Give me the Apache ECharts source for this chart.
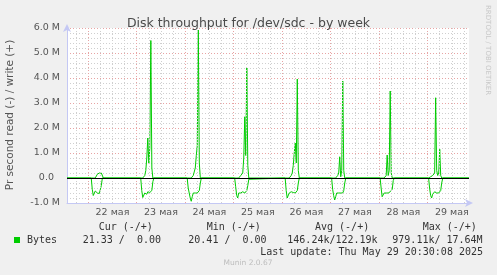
<!DOCTYPE html>
<html>
<head>
<meta charset="utf-8">
<script src="https://cdn.jsdelivr.net/npm/echarts@6/dist/echarts.min.js"></script>
<style>
  html, body { margin: 0; padding: 0; background: #f0f0f0; }
  #chart { width: 497px; height: 275px; }
</style>
</head>
<body>
<div id="chart"></div>
<script>
// Time is counted in hours from 21 May 2025 00:00; throughput in MB/s.
const viewStart = 13.5;   // 21 May 13:30
const viewEnd = 212.5;    // 29 May 20:30
const sampleStep = 0.5;   // 30-minute consolidation

const dayLabels = ['22 мая', '23 мая', '24 мая', '25 мая', '26 мая', '27 мая', '28 мая', '29 мая'];
const yTicks = [-1, 0, 1, 2, 3, 4, 5, 6];

// Start hour of each nightly activity window
const burstStart = [25.5, 50, 73, 96.5, 121.5, 144.5, 168.5, 192.5];

// Read throughput (drawn below zero)
const readMay22 = [0, 0.45, 0.7, 0.68, 0.52, 0.55, 0.6, 0.6, 0.62, 0.6, 0.3, 0, 0];
const readMay23 = [0, 0.5, 0.78, 0.8, 0.6, 0.62, 0.65, 0.55, 0.6, 0.58, 0.55, 0.5, 0.15, 0];
const readMay24 = [0, 0.4, 0.6, 0.8, 0.93, 0.75, 0.6, 0.55, 0.6, 0.58, 0.6, 0.55, 0.5, 0.2, 0];
const readMay25 = [0, 0.35, 0.7, 0.8, 0.6, 0.55, 0.6, 0.6, 0.55, 0.58, 0.6, 0.55, 0.5, 0.3, 0.05, 0];
const readMay26 = [0, 0.5, 0.8, 0.75, 0.6, 0.55, 0.55, 0.6, 0.58, 0.55, 0.6, 0.55, 0.5, 0.2, 0];
const readMay27 = [0, 0.45, 0.7, 0.88, 0.75, 0.6, 0.55, 0.6, 0.58, 0.6, 0.55, 0.6, 0.5, 0.2, 0];
const readMay28 = [0, 0.4, 0.75, 0.8, 0.6, 0.55, 0.6, 0.55, 0.6, 0.58, 0.55, 0.5, 0.45, 0.1, 0];
const readMay29 = [0, 0.4, 0.7, 0.8, 0.65, 0.6, 0.55, 0.6, 0.6, 0.58, 0.6, 0.55, 0.5, 0.2, 0];

// Write throughput (drawn above zero)
const writeMay22 = [0, 0, 0, 0, 0, 0.05, 0.15, 0.1, 0.2, 0.15, 0.2, 0.25, 0];
const writeMay23 = [0, 0, 0, 0.05, 0.1, 0.3, 0.8, 1.6, 0.6, 1.2, 5.5, 0.4, 0, 0];
const writeMay24 = [0, 0, 0, 0, 0, 0.05, 0.1, 0.15, 0.4, 0.9, 1.3, 5.92, 0.6, 0, 0];
const writeMay25 = [0, 0, 0, 0, 0, 0.05, 0.1, 0.15, 0.2, 0.8, 2.45, 0.9, 4.4, 0.5, 0, 0];
const writeMay26 = [0, 0, 0, 0, 0, 0.05, 0.1, 0.2, 0.5, 1.0, 1.4, 0.6, 3.96, 0.3, 0];
const writeMay27 = [0, 0, 0, 0, 0, 0.05, 0.1, 0.2, 0.85, 0.05, 0.3, 3.88, 0.3, 0, 0];
const writeMay28 = [0, 0, 0, 0, 0, 0.05, 0.1, 0.92, 0.1, 0.3, 3.48, 0.2, 0, 0, 0];
const writeMay29 = [0, 0, 0.05, 0.1, 0.1, 0.15, 0.2, 3.21, 0.3, 0.1, 0.2, 1.15, 0.1, 0, 0];

const readBursts = [readMay22, readMay23, readMay24, readMay25, readMay26, readMay27, readMay28, readMay29];
const writeBursts = [writeMay22, writeMay23, writeMay24, writeMay25, writeMay26, writeMay27, writeMay28, writeMay29];

// Legend statistics
const legendHeaders = ['Cur (-/+)', 'Min (-/+)', 'Avg (-/+)', 'Max (-/+)'];
const legendValues = ['21.33 /  0.00', '20.41 /  0.00', '146.24k/122.19k', '979.11k/ 17.64M'];

const green = '#00cc00';
const majorGrid = '#e8a4a4';
const minorGrid = '#cfcfcf';
const axisColor = '#c4c8f4';

function buildLine(bursts, sign) {
  const pts = [[viewStart, 0]];
  bursts.forEach((vals, b) => {
    vals.forEach((v, i) => pts.push([burstStart[b] + i * sampleStep, sign * v]));
  });
  pts.push([viewEnd, 0]);
  return pts;
}

// Vertical grid: dotted every 6 h, red at midnight
const vGrid = [];
for (let h = 18; h < viewEnd; h += 6) {
  const major = h % 24 === 0;
  vGrid.push({ xAxis: h, lineStyle: { color: major ? majorGrid : minorGrid, type: [1, 2], width: 1 } });
}
const noonHours = dayLabels.map((_, i) => 24 * (i + 1) + 12);

const chart = echarts.init(document.getElementById('chart'), null, { renderer: 'canvas' });

const legendCols = [98.7, 206.7, 315, 422.7];
const valueCols = [82.7, 188.3, 287.3, 392.3];
const mono = '10px "DejaVu Sans Mono"';
const graphics = [
  { type: 'text', x: 10, y: 115, rotation: Math.PI / 2,
    style: { text: 'Pr second read (-) / write (+)', font: '10.5px "DejaVu Sans"', fill: '#555',
             textAlign: 'center', textVerticalAlign: 'middle', align: 'center', verticalAlign: 'middle' } },
  { type: 'text', x: 488, y: 5, rotation: -Math.PI / 2,
    style: { text: 'RRDTOOL / TOBI OETIKER', font: '7px "DejaVu Sans"', fill: '#c8c8c8',
             textAlign: 'left', textVerticalAlign: 'middle', align: 'left', verticalAlign: 'middle' } },
  { type: 'rect', shape: { x: 14, y: 237, width: 6, height: 6 }, style: { fill: green } },
  { type: 'text', x: 27, y: 240,
    style: { text: 'Bytes', font: mono, fill: '#333', textVerticalAlign: 'middle', verticalAlign: 'middle' } },
  { type: 'text', x: 483, y: 252,
    style: { text: 'Last update: Thu May 29 20:30:08 2025', font: mono, fill: '#333',
             textAlign: 'right', align: 'right', textVerticalAlign: 'middle', verticalAlign: 'middle' } },
  { type: 'text', x: 248, y: 263.5,
    style: { text: 'Munin 2.0.67', font: '7.5px "DejaVu Sans"', fill: '#bdbdbd',
             textAlign: 'center', align: 'center', textVerticalAlign: 'middle', verticalAlign: 'middle' } }
];
legendHeaders.forEach((t, i) => graphics.push({ type: 'text', x: legendCols[i], y: 227.5,
  style: { text: t, font: mono, fill: '#333', textVerticalAlign: 'middle', verticalAlign: 'middle' } }));
legendValues.forEach((t, i) => graphics.push({ type: 'text', x: valueCols[i], y: 240,
  style: { text: t, font: mono, fill: '#333', textVerticalAlign: 'middle', verticalAlign: 'middle' } }));

chart.setOption({
  backgroundColor: '#f0f0f0',
  animation: false,
  textStyle: { fontFamily: 'DejaVu Sans' },
  title: {
    text: 'Disk throughput for /dev/sdc - by week',
    left: 'center', top: 12,
    textStyle: { fontSize: 12.5, fontWeight: 'normal', color: '#4a4a4a', fontFamily: 'DejaVu Sans' }
  },
  grid: { left: 67, right: 28, top: 28, bottom: 72, show: true, backgroundColor: '#ffffff', borderWidth: 0 },
  xAxis: {
    type: 'value', min: viewStart, max: viewEnd,
    axisLine: { show: true, onZero: false, lineStyle: { color: axisColor, width: 1 },
                symbol: ['none', 'arrow'], symbolSize: [6, 8], symbolOffset: [0, 4] },
    axisTick: { show: false },
    splitLine: { show: false },
    axisLabel: {
      customValues: noonHours,
      formatter: v => dayLabels[Math.round((v - 36) / 24)] || '',
      color: '#555', fontSize: 9.5, margin: 5, fontFamily: 'DejaVu Sans'
    }
  },
  yAxis: {
    type: 'value', min: yTicks[0], max: yTicks[yTicks.length - 1], interval: 1,
    axisLine: { show: true, onZero: false, lineStyle: { color: axisColor, width: 1 },
                symbol: ['none', 'arrow'], symbolSize: [6, 8], symbolOffset: [0, 4] },
    axisTick: { show: false },
    axisLabel: {
      formatter: v => v === 0 ? '0.0  ' : v.toFixed(1) + ' M',
      color: '#555', fontSize: 9.5, margin: 7, fontFamily: 'DejaVu Sans'
    },
    splitLine: { show: true, lineStyle: { color: majorGrid, type: [1, 2], width: 1 } },
    minorTick: { show: false, splitNumber: 5 },
    minorSplitLine: { show: true, lineStyle: { color: minorGrid, type: [1, 2], width: 1 } }
  },
  graphic: graphics,
  series: [
    {
      type: 'line', name: 'grid', data: [], z: 1, silent: true,
      markLine: { silent: true, symbol: 'none', label: { show: false }, animation: false, data: vGrid }
    },
    {
      type: 'line', name: 'Bytes read', data: buildLine(readBursts, -1), z: 3,
      showSymbol: false, symbol: 'none', lineStyle: { color: green, width: 1 }, itemStyle: { color: green }
    },
    {
      type: 'line', name: 'Bytes', data: buildLine(writeBursts, 1), z: 3,
      showSymbol: false, symbol: 'none', lineStyle: { color: green, width: 1 }, itemStyle: { color: green }
    },
    {
      type: 'line', name: 'zero', data: [], z: 10, silent: true,
      markLine: { silent: true, symbol: 'none', label: { show: false }, animation: false,
                  data: [{ yAxis: 0, lineStyle: { color: '#000', type: 'solid', width: 1 } }] }
    }
  ]
});
</script>
</body>
</html>
